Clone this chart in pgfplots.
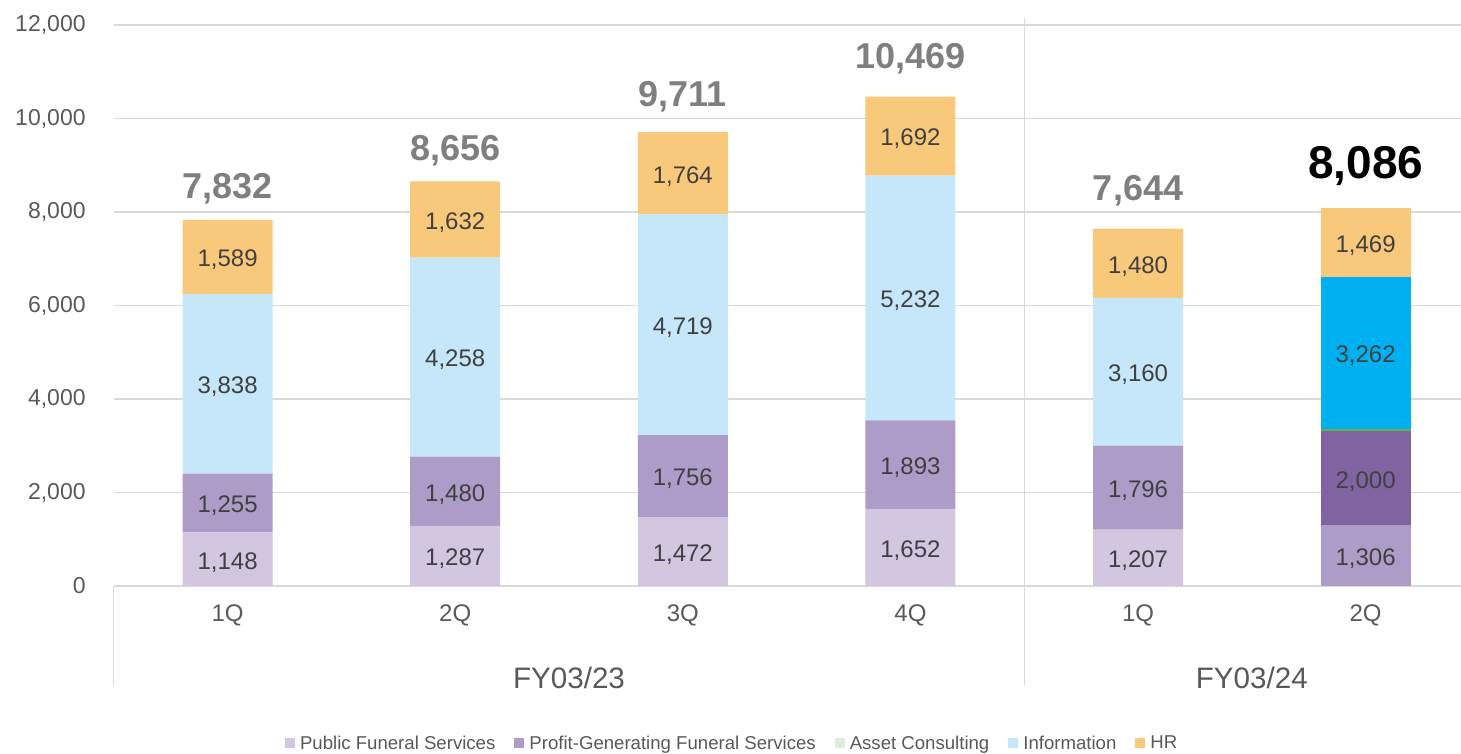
\documentclass[border=0pt]{standalone}
\usepackage{pgfplots}
\pgfplotsset{compat=1.18}
\usepackage{pgfplotstable}
\usepackage{fontspec}
\setmainfont{Liberation Sans}
\definecolor{pubc}{HTML}{D2C6E1}
\definecolor{profc}{HTML}{AD9BC8}
\definecolor{assetc}{HTML}{DDEEDA}
\definecolor{infoc}{HTML}{C6E6FA}
\definecolor{hrc}{HTML}{F9C97B}
\definecolor{prof2c}{HTML}{8064A2}
\definecolor{asset2c}{HTML}{70AD47}
\definecolor{info2c}{HTML}{00B0F0}
\definecolor{gridc}{HTML}{D9D9D9}
\definecolor{labc}{HTML}{404040}
\definecolor{tickc}{HTML}{595959}
\definecolor{totc}{HTML}{7F7F7F}
\pgfplotstableread{
x pub prof asset info hr
0 1148 1255 2 3838 1589
1 1287 1480 0 4258 1632
2 1472 1756 0 4719 1764
3 1652 1893 0 5232 1692
4 1207 1796 0 3160 1480
5 0 0 0 0 0
}\dataA
\pgfplotstableread{
x pub prof asset info hr
0 0 0 0 0 0
1 0 0 0 0 0
2 0 0 0 0 0
3 0 0 0 0 0
4 0 0 0 0 0
5 1306 2000 49 3262 1469
}\dataB
\newcommand{\myfs}[1]{\fontsize{#1}{#1}\selectfont}
\begin{document}
\begin{tikzpicture}
\begin{axis}[
  scale only axis,
  width=1347.2pt, height=561pt,
  xmin=-0.5, xmax=5.419,
  ymin=0, ymax=12000,
  ybar stacked, bar width=90pt,
  axis line style={draw=none},
  ymajorgrids, grid style={gridc, line width=1.3pt},
  ytick={0,2000,...,12000},
  scaled y ticks=false,
  major tick length=0pt,
  yticklabel style={font=\myfs{23}, text=tickc, inner sep=0pt, xshift=-28pt},
  /pgf/number format/assume math mode=true,
  /pgf/number format/1000 sep={,},
  xtick={0,1,2,3,4,5},
  xticklabels={1Q,2Q,3Q,4Q,1Q,2Q},
  xticklabel style={font=\myfs{24}, text=tickc, inner sep=0pt, anchor=base, yshift=-35.6pt},
  legend style={at={(axis description cs:0.459,0)}, anchor=center, yshift=-157pt,
    draw=none, font=\myfs{18.6}, text=tickc, legend columns=5,
    /tikz/every odd column/.append style={column sep=3pt},
    /tikz/every even column/.append style={column sep=17pt}, inner sep=0pt},
  legend image code/.code={\fill[#1] (0pt,-5pt) rectangle (10pt,5pt);},
  clip=false,
]
\addplot[fill=pubc, draw=none] table[x=x,y=pub]{\dataA};
\addlegendentry{Public Funeral Services}
\addplot[fill=profc, draw=none] table[x=x,y=prof]{\dataA};
\addlegendentry{Profit-Generating Funeral Services}
\addplot[fill=assetc, draw=none] table[x=x,y=asset]{\dataA};
\addlegendentry{Asset Consulting}
\addplot[fill=infoc, draw=none] table[x=x,y=info]{\dataA};
\addlegendentry{Information}
\addplot[fill=hrc, draw=none] table[x=x,y=hr]{\dataA};
\addlegendentry{HR}
\addplot[fill=profc, draw=none, forget plot] table[x=x,y=pub]{\dataB};
\addplot[fill=prof2c, draw=none, forget plot] table[x=x,y=prof]{\dataB};
\addplot[fill=asset2c, draw=none, forget plot] table[x=x,y=asset]{\dataB};
\addplot[fill=info2c, draw=none, forget plot] table[x=x,y=info]{\dataB};
\addplot[fill=hrc, draw=none, forget plot] table[x=x,y=hr]{\dataB};
% x axis line and separators
\draw[gridc, line width=1.3pt] (axis cs:-0.5,0) -- (axis cs:5.419,0);
\draw[gridc, line width=1.3pt] (axis cs:-0.5,0) -- ([yshift=-100pt]axis cs:-0.5,0);
\draw[gridc, line width=1.3pt] ([yshift=7pt]axis cs:3.5,12000) -- ([yshift=-100pt]axis cs:3.5,0);
% segment label positions
\coordinate (a1) at (axis cs:0,574);
\coordinate (a2) at (axis cs:0,1775.5);
\coordinate (a3) at (axis cs:0,4324);
\coordinate (a4) at (axis cs:0,7037.5);
\coordinate (b1) at (axis cs:1,643.5);
\coordinate (b2) at (axis cs:1,2027);
\coordinate (b3) at (axis cs:1,4896);
\coordinate (b4) at (axis cs:1,7841);
\coordinate (c1) at (axis cs:2,736);
\coordinate (c2) at (axis cs:2,2350);
\coordinate (c3) at (axis cs:2,5587.5);
\coordinate (c4) at (axis cs:2,8829);
\coordinate (d1) at (axis cs:3,826);
\coordinate (d2) at (axis cs:3,2598.5);
\coordinate (d3) at (axis cs:3,6161);
\coordinate (d4) at (axis cs:3,9623);
\coordinate (e1) at (axis cs:4,603.5);
\coordinate (e2) at (axis cs:4,2105);
\coordinate (e3) at (axis cs:4,4583);
\coordinate (e4) at (axis cs:4,6903);
\coordinate (f1) at (axis cs:5,653);
\coordinate (f2) at (axis cs:5,2306);
\coordinate (f3) at (axis cs:5,4986);
\coordinate (f4) at (axis cs:5,7351.5);
% totals
\node[font=\myfs{36}\bfseries, text=totc, anchor=base, inner sep=0pt] at ([yshift=21pt]axis cs:0,7832) {7,832};
\node[font=\myfs{36}\bfseries, text=totc, anchor=base, inner sep=0pt] at ([yshift=21pt]axis cs:1,8656) {8,656};
\node[font=\myfs{36}\bfseries, text=totc, anchor=base, inner sep=0pt] at ([yshift=26pt]axis cs:2,9711) {9,711};
\node[font=\myfs{36}\bfseries, text=totc, anchor=base, inner sep=0pt] at ([yshift=28pt]axis cs:3,10469) {10,469};
\node[font=\myfs{36}\bfseries, text=totc, anchor=base, inner sep=0pt] at ([yshift=28pt]axis cs:4,7644) {7,644};
\node[font=\myfs{46}\bfseries, text=black, anchor=base, inner sep=0pt] at ([yshift=29pt]axis cs:5,8086) {8,086};
% group labels
\node[font=\myfs{29.6}, text=tickc, anchor=base, inner sep=0pt] at ([yshift=-102.6pt]axis cs:1.5,0) {FY03/23};
\node[font=\myfs{29.6}, text=tickc, anchor=base, inner sep=0pt] at ([yshift=-102.6pt]axis cs:4.5,0) {FY03/24};
\coordinate (BL) at ([xshift=-113.8pt,yshift=-167pt]axis cs:-0.5,0);
\coordinate (TR) at ([yshift=25pt]axis cs:5.419,12000);
\end{axis}
\begin{scope}[every node/.style={font=\myfs{24}, text=labc, yshift=-3pt}]
\node at (a1) {1,148}; \node at (a2) {1,255}; \node at (a3) {3,838}; \node at (a4) {1,589};
\node at (b1) {1,287}; \node at (b2) {1,480}; \node at (b3) {4,258}; \node at (b4) {1,632};
\node at (c1) {1,472}; \node at (c2) {1,756}; \node at (c3) {4,719}; \node at (c4) {1,764};
\node at (d1) {1,652}; \node at (d2) {1,893}; \node at (d3) {5,232}; \node at (d4) {1,692};
\node at (e1) {1,207}; \node at (e2) {1,796}; \node at (e3) {3,160}; \node at (e4) {1,480};
\node at (f1) {1,306}; \node at (f2) {2,000}; \node at (f3) {3,262}; \node at (f4) {1,469};
\end{scope}
\pgfresetboundingbox
\path[use as bounding box] (BL) rectangle (TR);
\end{tikzpicture}
\end{document}
